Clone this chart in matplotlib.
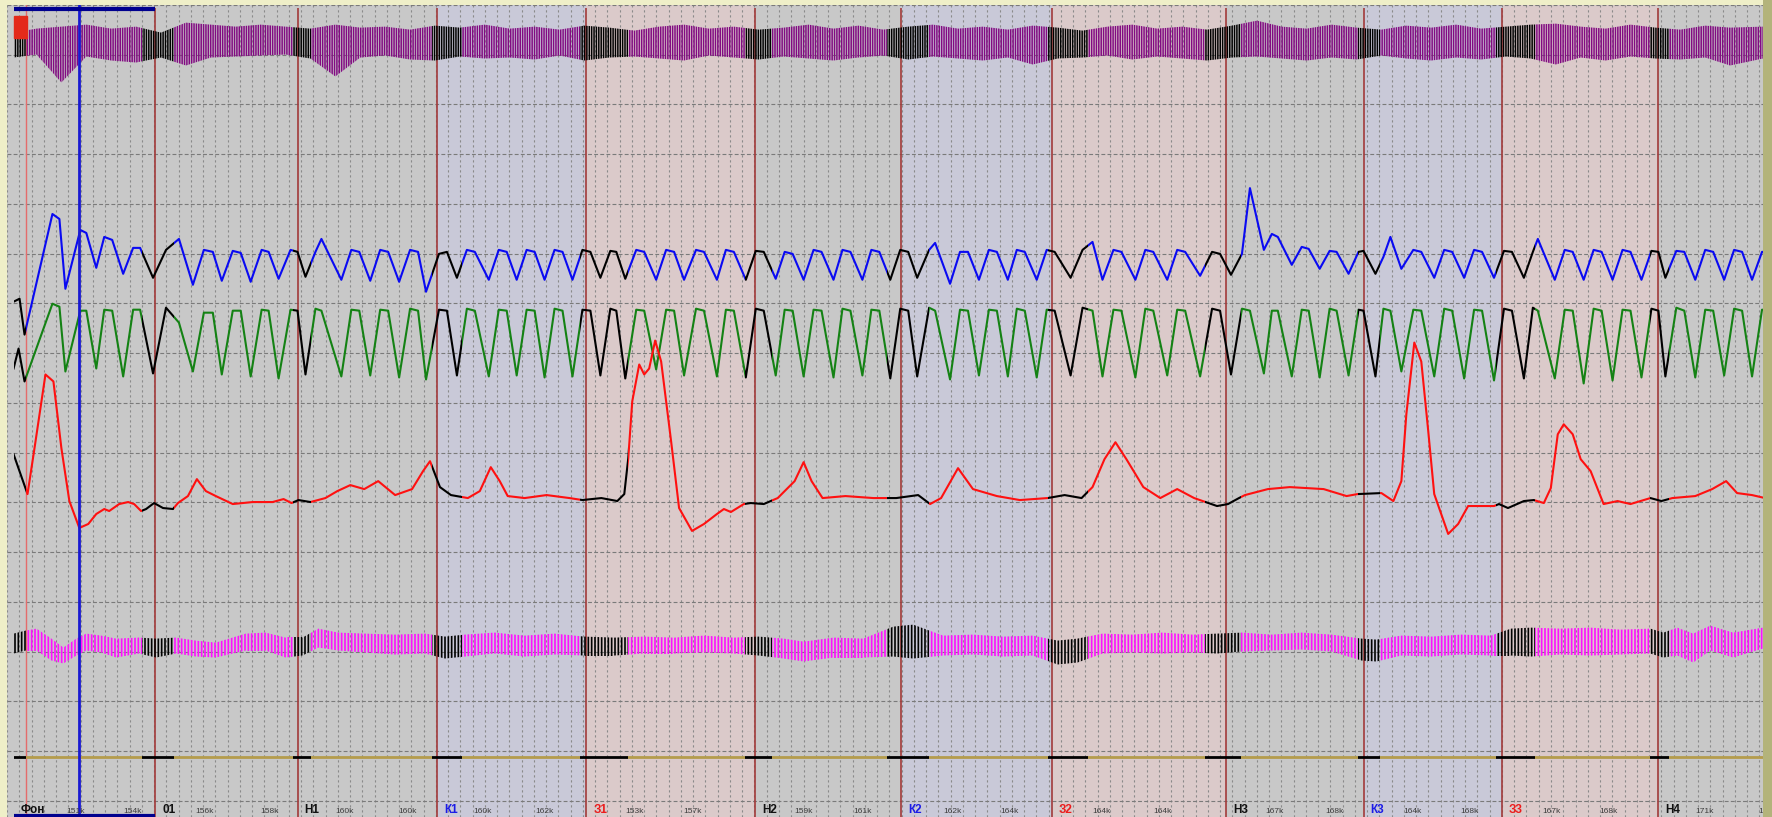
import numpy as np
import matplotlib
matplotlib.use("Agg")
import matplotlib.pyplot as plt
from matplotlib.path import Path
from matplotlib.patches import Rectangle

# segments of the test (x = screen samples, y = screen rows, top down)
seg_start = [7, 149, 292, 432, 582, 751, 898, 1049, 1224, 1362, 1501, 1658]
seg_name = ['Фон', '01', 'Н1', 'К1', 'З1', 'Н2', 'К2', 'З2', 'Н3', 'К3', 'З3', 'Н4']
seg_kind = ['n', 'n', 'n', 'k', 'z', 'n', 'k', 'z', 'n', 'k', 'z', 'n']
x_end = 1763

# question periods (traces drawn black)
q_on = [7, 136, 287, 427, 576, 741, 884, 1045, 1203, 1356, 1495, 1650]
q_off = [19, 168, 306, 457, 624, 768, 926, 1085, 1239, 1379, 1534, 1669]

start_mark = 19
cursor_x = 73
event_level = 757

sub_x = [69, 126, 199, 264, 339, 402, 478, 540, 630, 689, 800, 859, 949, 1007,
         1099, 1160, 1273, 1333, 1411, 1468, 1551, 1608, 1704, 1767]
sub_lbl = ['151k', '154k', '156k', '158k', '160k', '160k', '160k', '162k',
           '153k', '157k', '159k', '161k', '162k', '164k', '164k', '164k',
           '167k', '168k', '164k', '168k', '167k', '168k', '171k', '172k']

# breathing cycles: trough x, plateau start x, plateau end x
cyc_tr = [18, 59, 90, 117, 147, 187, 216, 245, 273, 300, 336, 365, 394, 421, 452,
          484, 512, 540, 568, 596, 621, 652, 680, 713, 742, 772, 800, 830, 859, 887,
          914, 947, 976, 1005, 1034, 1068, 1100, 1133, 1165, 1198, 1229, 1262, 1290,
          1318, 1347, 1374, 1400, 1433, 1463, 1493, 1523, 1554, 1583, 1612, 1641,
          1665, 1695, 1724, 1752]
cyc_p0 = [46, 74, 98, 127, 160, 198, 227, 256, 285, 310, 346, 375, 405, 434, 462,
          494, 522, 550, 578, 606, 632, 662, 692, 722, 752, 781, 810, 839, 868, 897,
          926, 957, 986, 1014, 1044, 1080, 1111, 1143, 1175, 1210, 1240, 1270, 1300,
          1328, 1357, 1382, 1412, 1443, 1473, 1503, 1532, 1564, 1593, 1622, 1651,
          1676, 1705, 1734, 1762]
cyc_p1 = [53, 80, 106, 134, 173, 207, 235, 263, 292, 316, 354, 383, 413, 442, 470,
          502, 530, 558, 586, 612, 640, 670, 700, 730, 760, 789, 818, 847, 876, 905,
          932, 965, 994, 1022, 1052, 1090, 1119, 1151, 1183, 1218, 1248, 1276, 1307,
          1335, 1362, 1389, 1420, 1451, 1481, 1511, 1537, 1572, 1601, 1630, 1658,
          1684, 1713, 1742, 1770]

# upper pneumogram (blue)
blue_lead_x = [7, 13]
blue_lead_y = [300, 297]
blue_tr = [333, 287, 266, 272, 276, 283, 279, 280, 277, 275, 278, 279, 280, 290, 276,
           278, 278, 278, 278, 276, 277, 278, 278, 278, 278, 277, 278, 278, 278, 278,
           276, 282, 278, 278, 278, 276, 278, 278, 278, 274, 273, 248, 263, 267, 272,
           272, 267, 276, 276, 276, 276, 278, 278, 278, 278, 276, 278, 278, 278]
blue_p0 = [212, 228, 235, 246, 248, 248, 249, 248, 248, 250, 248, 248, 248, 252, 248,
           248, 248, 248, 248, 249, 248, 248, 248, 248, 249, 250, 248, 248, 248, 248,
           248, 250, 248, 248, 248, 248, 248, 248, 248, 250, 252, 232, 245, 249, 250,
           255, 248, 248, 248, 249, 250, 248, 248, 248, 249, 249, 248, 248, 250]
blue_p1 = [217, 231, 238, 246, 237, 250, 251, 250, 250, 237, 250, 250, 250, 250, 250,
           250, 250, 250, 250, 250, 250, 250, 250, 250, 250, 252, 250, 250, 250, 250,
           241, 250, 250, 250, 250, 240, 250, 250, 250, 252, 186, 235, 247, 250, 249,
           235, 250, 250, 250, 250, 237, 250, 250, 250, 250, 250, 250, 250, 250]

# lower pneumogram (green)
green_lead_x = [7, 12]
green_lead_y = [367, 347]
green_tr = [380, 370, 367, 375, 372, 370, 373, 375, 377, 373, 375, 374, 376, 378, 374,
            375, 374, 376, 375, 374, 377, 368, 374, 375, 376, 374, 375, 376, 374, 377,
            375, 378, 374, 375, 376, 374, 375, 376, 374, 375, 373, 372, 375, 376, 374,
            375, 370, 375, 377, 379, 377, 377, 382, 379, 376, 375, 376, 374, 375]
green_p0 = [302, 309, 308, 308, 306, 311, 309, 308, 308, 307, 308, 308, 307, 308, 307,
            308, 308, 307, 308, 307, 308, 308, 307, 308, 307, 308, 308, 307, 308, 307,
            306, 308, 308, 307, 308, 306, 308, 307, 308, 307, 307, 309, 308, 307, 308,
            307, 308, 307, 308, 307, 306, 308, 307, 308, 307, 306, 308, 307, 308]
green_p1 = [305, 309, 309, 308, 321, 311, 309, 309, 309, 309, 309, 309, 309, 309, 309,
            309, 309, 309, 309, 309, 309, 309, 309, 309, 309, 309, 309, 309, 309, 309,
            309, 309, 309, 309, 309, 309, 309, 309, 309, 309, 309, 309, 309, 309, 309,
            309, 309, 309, 309, 309, 309, 309, 309, 309, 309, 309, 309, 309, 309]

# GSR (red)
red_x = [7, 21, 28, 39, 47, 55, 63, 73, 82, 90, 98, 103, 113, 122, 128, 135, 140, 148,
         157, 167, 172, 182, 191, 200, 210, 227, 247, 267, 278, 286, 293, 305, 320, 332,
         345, 359, 373, 390, 407, 418, 425, 435, 446, 463, 475, 486, 495, 503, 520, 542,
         565, 578, 597, 613, 620, 624, 628, 635, 640, 645, 651, 657, 667, 675, 688, 700,
         713, 720, 727, 740, 747, 760, 774, 791, 800, 808, 819, 842, 870, 893, 915, 927,
         938, 955, 970, 994, 1017, 1045, 1062, 1079, 1090, 1102, 1113, 1124, 1141, 1158,
         1175, 1192, 1215, 1226, 1237, 1243, 1266, 1288, 1322, 1345, 1356, 1380, 1392,
         1400, 1405, 1413, 1420, 1427, 1433, 1447, 1457, 1467, 1480, 1493, 1498, 1507,
         1523, 1533, 1543, 1550, 1557, 1563, 1572, 1580, 1590, 1603, 1617, 1630, 1650,
         1661, 1672, 1695, 1712, 1726, 1737, 1752, 1765]
red_y = [453, 493, 447, 373, 380, 447, 500, 527, 523, 513, 508, 510, 503, 501, 503, 510,
         508, 502, 507, 508, 502, 495, 478, 490, 495, 503, 501, 501, 498, 502, 499, 501,
         497, 490, 484, 488, 480, 494, 488, 470, 460, 486, 494, 497, 490, 466, 480, 495,
         497, 494, 497, 499, 497, 500, 493, 457, 400, 363, 373, 367, 339, 360, 440, 507,
         530, 523, 513, 508, 511, 503, 502, 503, 497, 480, 461, 480, 497, 495, 497, 497,
         494, 503, 497, 467, 488, 495, 499, 497, 494, 497, 486, 458, 441, 458, 486, 497,
         488, 497, 505, 503, 497, 494, 488, 486, 488, 495, 493, 492, 500, 480, 413, 341,
         360, 430, 493, 533, 523, 505, 505, 505, 503, 507, 500, 499, 502, 487, 433, 423,
         433, 458, 470, 503, 500, 503, 497, 500, 497, 495, 488, 480, 492, 494, 497]

# cardio / pulse band (purple, top) envelope
pur_x = [7] + list(range(30, 1731, 25)) + [1763]
pur_top = [30, 26, 24, 22, 26, 24, 30, 20, 22, 24, 22, 24, 26, 22, 25, 24, 27, 23, 25, 22,
           26, 24, 27, 23, 25, 28, 24, 22, 26, 24, 27, 25, 22, 26, 23, 27, 24, 22, 26, 24,
           27, 23, 25, 28, 24, 22, 26, 24, 27, 23, 18, 24, 26, 22, 25, 27, 23, 25, 22, 26,
           24, 22, 21, 24, 26, 22, 25, 27, 23, 25, 24]
pur_bot = [55, 52, 80, 54, 58, 60, 55, 63, 55, 54, 53, 52, 56, 74, 55, 53, 57, 58, 54, 56,
           55, 57, 53, 58, 55, 54, 56, 58, 53, 55, 57, 54, 56, 58, 55, 53, 57, 54, 56, 58,
           55, 62, 56, 55, 53, 57, 54, 56, 58, 55, 54, 56, 58, 55, 57, 53, 56, 58, 55, 57,
           54, 56, 62, 55, 58, 54, 56, 57, 55, 63, 56]

# plethysmogram band (magenta) envelope
mag_x = [7, 19, 30, 45, 57, 70, 80, 95, 110, 133, 150, 170, 190, 210, 240, 260, 280,
         297, 313, 333, 360, 390, 420, 440, 460, 490, 520, 550, 580, 610, 640, 670, 700,
         730, 755, 780, 800, 830, 860, 890, 910, 940, 970, 1000, 1030, 1055, 1075, 1100,
         1130, 1160, 1190, 1215, 1240, 1270, 1300, 1330, 1360, 1375, 1400, 1430, 1460,
         1490, 1510, 1530, 1560, 1590, 1620, 1650, 1663, 1677, 1693, 1710, 1733, 1763]
mag_top = [633, 630, 628, 638, 647, 638, 633, 635, 638, 637, 638, 637, 640, 642, 633,
           632, 637, 637, 628, 632, 633, 634, 633, 636, 634, 632, 635, 633, 636, 637,
           636, 637, 635, 637, 636, 638, 641, 637, 638, 626, 624, 635, 634, 636, 635,
           640, 638, 633, 634, 632, 634, 633, 632, 634, 632, 634, 638, 639, 635, 636,
           634, 635, 628, 627, 628, 627, 629, 628, 632, 627, 633, 625, 632, 627]
mag_bot = [653, 650, 650, 660, 663, 655, 650, 652, 657, 653, 657, 653, 656, 657, 650,
           650, 657, 655, 647, 650, 652, 654, 653, 658, 656, 653, 656, 654, 655, 655,
           653, 653, 652, 653, 655, 658, 661, 657, 657, 656, 658, 655, 654, 656, 655,
           664, 662, 653, 652, 653, 652, 653, 651, 650, 649, 651, 660, 661, 655, 656,
           654, 655, 655, 656, 654, 655, 654, 653, 657, 655, 662, 650, 657, 648]

bg_color = {'n': '#c8c8c8', 'k': '#c9c9d8', 'z': '#dbcaca'}
txt_color = {'n': '#111111', 'k': '#1c1ce6', 'z': '#ec1c1c'}

plt.rcParams['font.family'] = ['Liberation Sans', 'DejaVu Sans']

W, H = 1772, 817
fig = plt.figure(figsize=(W / 100, H / 100), dpi=100, facecolor='#efefc8')
fig.add_artist(Rectangle((x_end / W, 0), 1 - x_end / W, 1,
                         transform=fig.transFigure, color='#b3b37b', lw=0))
ax = fig.add_axes([7 / W, 0, (x_end - 7) / W, (H - 5) / H])
ax.set_xlim(7, x_end)
ax.set_ylim(H, 5)
ax.set_facecolor('#c8c8c8')
for s in ax.spines.values():
    s.set_visible(False)

bounds = seg_start + [x_end]
for i, k in enumerate(seg_kind):
    ax.axvspan(bounds[i], bounds[i + 1], color=bg_color[k], lw=0, zorder=0.1)

ax.set_xticks(np.arange(0.4, x_end, 12.3))
ax.set_yticks(np.arange(2.3, H, 49.9))
ax.tick_params(length=0, labelbottom=False, labelleft=False)
ax.set_axisbelow(True)
ax.grid(axis='x', color='#8a8a8a', lw=0.8, ls=(0, (2, 2.5)))
ax.grid(axis='y', color='#7a7a7a', lw=0.8, ls=(0, (3.5, 2)))

ax.vlines(seg_start[1:], 5, H, color='#a23a3a', lw=1.2, zorder=1.5)
ax.axvline(start_mark, color='#e46c6c', lw=1.0, zorder=1.5)


def strips(a, b):
    verts, codes = [], []
    for x0, x1 in zip(a, b):
        verts += [(x0, -50), (x1, -50), (x1, H + 50), (x0, H + 50), (x0, -50)]
        codes += [Path.MOVETO, Path.LINETO, Path.LINETO, Path.LINETO, Path.CLOSEPOLY]
    return Path(verts, codes)


q_path = strips(q_on, q_off)
n_path = strips(q_off, q_on[1:] + [x_end + 20])


def trace(x, y, color, lw=1.5):
    for c, p in ((color, n_path), ('black', q_path)):
        ln, = ax.plot(x, y, color=c, lw=lw, solid_joinstyle='round', zorder=2)
        ln.set_clip_path(p, ax.transData)


def band(x, top, bot, color, hatch, hlw):
    plt.rcParams['hatch.linewidth'] = hlw
    for c, p in ((color, n_path), ('black', q_path)):
        pc = ax.fill_between(x, top, bot, facecolor='none', edgecolor=c,
                             hatch=hatch, lw=0, zorder=2)
        pc.set_clip_path(p, ax.transData)


def cycles(lx, ly, p0y, p1y, try_):
    xs, ys = list(lx), list(ly)
    for i in range(len(cyc_tr)):
        xs += [cyc_tr[i], cyc_p0[i], cyc_p1[i]]
        ys += [try_[i], p0y[i], p1y[i]]
    return xs, ys


band(pur_x, pur_top, pur_bot, '#820a82', '|||||||', 1.1)
band(mag_x, mag_top, mag_bot, '#ff10ff', '|||||', 1.2)

bx, by = cycles(blue_lead_x, blue_lead_y, blue_p0, blue_p1, blue_tr)
trace(bx, by, '#0a0af2')
gx, gy = cycles(green_lead_x, green_lead_y, green_p0, green_p1, green_tr)
trace(gx, gy, '#148214')
trace(red_x, red_y, '#ff1010')
trace([7, x_end], [event_level, event_level], '#b49c4c', lw=2)

ax.axvline(cursor_x, color='#1818d2', lw=2, zorder=3)
ax.hlines([6, H - 1], seg_start[0], seg_start[1], color='#00008e', lw=3, zorder=4)
ax.add_patch(Rectangle((7, 13), 13, 22, color='#e42a1a', zorder=4))

for x0, name, k in zip(seg_start, seg_name, seg_kind):
    ax.text(x0 + 7, 810, name, color=txt_color[k], fontsize=8.5, fontweight='bold',
            va='center', ha='left', zorder=5)
for x, lab in zip(sub_x, sub_lbl):
    ax.text(x, 811, lab, fontsize=6, color='#3c3c3c', va='center', ha='center',
            zorder=5, clip_on=True)

fig.savefig('out.png', dpi=100, facecolor=fig.get_facecolor())
